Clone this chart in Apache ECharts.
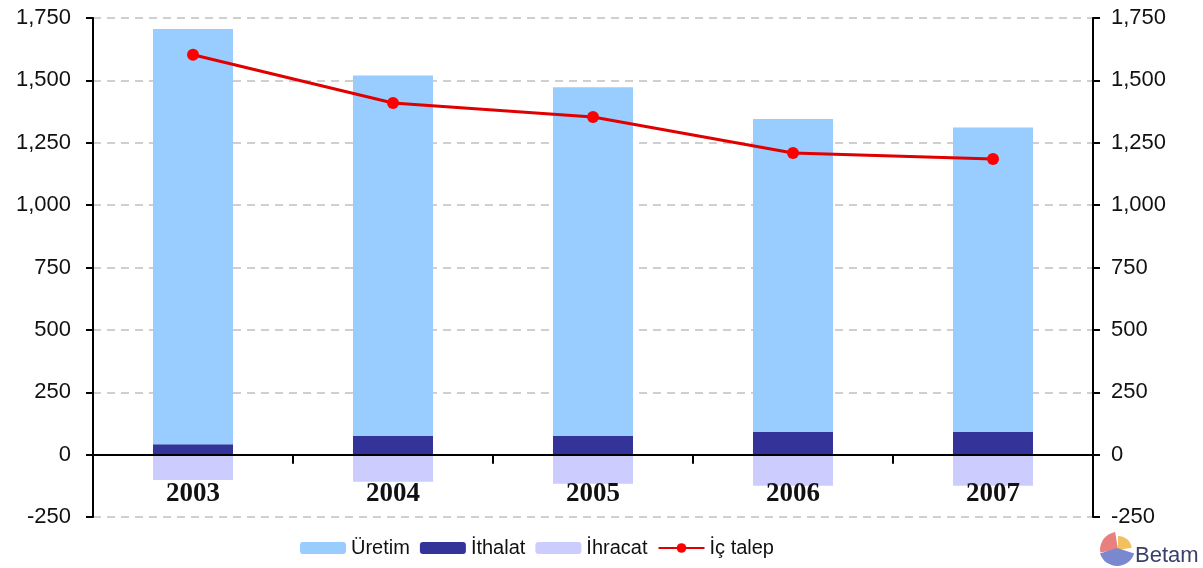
<!DOCTYPE html>
<html lang="tr">
<head>
<meta charset="UTF-8">
<title>Üretim, İthalat, İhracat, İç talep</title>
<script src="https://cdn.jsdelivr.net/npm/echarts@6.0.0/dist/echarts.min.js"></script>
<style>
    html, body { margin: 0; padding: 0; background: #fff; }
    #chart { width: 1203px; height: 568px; }
</style>
</head>
<body>
<div id="chart"></div>
<script>
    // values
    const years = ["2003", "2004", "2005", "2006", "2007"];
    const ithalat = [42, 75, 75, 91, 91];
    const uretim = [1664, 1445, 1397, 1254, 1220];
    const ihracat = [-102, -109, -117, -125, -125];
    const icTalep = [1603, 1409, 1353, 1209, 1185];

    const chart = echarts.init(document.getElementById("chart"));

    const fmt = v => v.toLocaleString("en-US");
    const valueAxis = (pos, align, margin) => ({
        type: "value",
        position: pos,
        min: -250,
        max: 1750,
        interval: 250,
        axisLine: { show: true, lineStyle: { color: "#000", width: 2 } },
        axisTick: { show: true, length: 7, lineStyle: { color: "#000", width: 2 } },
        splitLine: pos === "left"
            ? { show: true, lineStyle: { color: "#c0c0c0", type: [8, 6], width: 1.5 } }
            : { show: false },
        axisLabel: {
            formatter: fmt, margin: margin, align: align,
            color: "#111", fontFamily: "Liberation Sans, Arial", fontSize: 22
        }
    });

    const option = {
        animation: false,
        grid: { left: 93, right: 110, top: 18, bottom: 51 },
        legend: {
            left: 295, top: 533,
            itemWidth: 46, itemHeight: 12, itemGap: 10,
            textStyle: { fontFamily: "Liberation Sans, Arial", fontSize: 20, color: "#111" },
            data: ["Üretim", "İthalat", "İhracat", "İç talep"]
        },
        xAxis: {
            type: "category",
            data: years,
            axisLine: { onZero: true, lineStyle: { color: "#000", width: 2 } },
            axisTick: { show: true, length: 9, lineStyle: { color: "#000", width: 2 } },
            axisLabel: {
                // labels sit just under the zero line, not under the grid
                margin: -36, color: "#111",
                fontFamily: "Liberation Serif, Times New Roman", fontWeight: "bold", fontSize: 27
            },
            z: 10
        },
        yAxis: [valueAxis("left", "right", 22), valueAxis("right", "left", 18)],
        series: [
            {
                name: "İthalat", type: "bar", stack: "t", barWidth: 80,
                itemStyle: { color: "#333399" }, data: ithalat
            },
            {
                name: "Üretim", type: "bar", stack: "t", barWidth: 80,
                itemStyle: { color: "#99ccff" }, data: uretim
            },
            {
                name: "İhracat", type: "bar", stack: "t", barWidth: 80,
                itemStyle: { color: "#ccccff" }, data: ihracat
            },
            {
                name: "İç talep", type: "line", symbol: "circle", symbolSize: 12,
                lineStyle: { color: "#e00000", width: 3 },
                itemStyle: { color: "#ff0000" },
                data: icTalep, z: 5
            }
        ],
        graphic: [
            { type: "sector", left: 1100, top: 532,
              shape: { cx: 0, cy: 0, r: 18, r0: 0, startAngle: Math.PI * 0.95, endAngle: Math.PI * 1.45 },
              style: { fill: "#e88080" } },
            { type: "sector", left: 1118, top: 536,
              shape: { cx: 0, cy: 0, r: 14, r0: 0, startAngle: Math.PI * 1.5, endAngle: Math.PI * 1.95 },
              style: { fill: "#f2c060" } },
            { type: "sector", left: 1100, top: 548,
              shape: { cx: 0, cy: 0, r: 18, r0: 0, startAngle: Math.PI * 0.1, endAngle: Math.PI * 0.9 },
              style: { fill: "#7a88d0" } },
            { type: "text", left: 1135, top: 545,
              style: { text: "Betam", fill: "#3a3f6a", font: "22px Liberation Sans, Arial" } }
        ]
    };

    chart.setOption(option);
</script>
</body>
</html>
